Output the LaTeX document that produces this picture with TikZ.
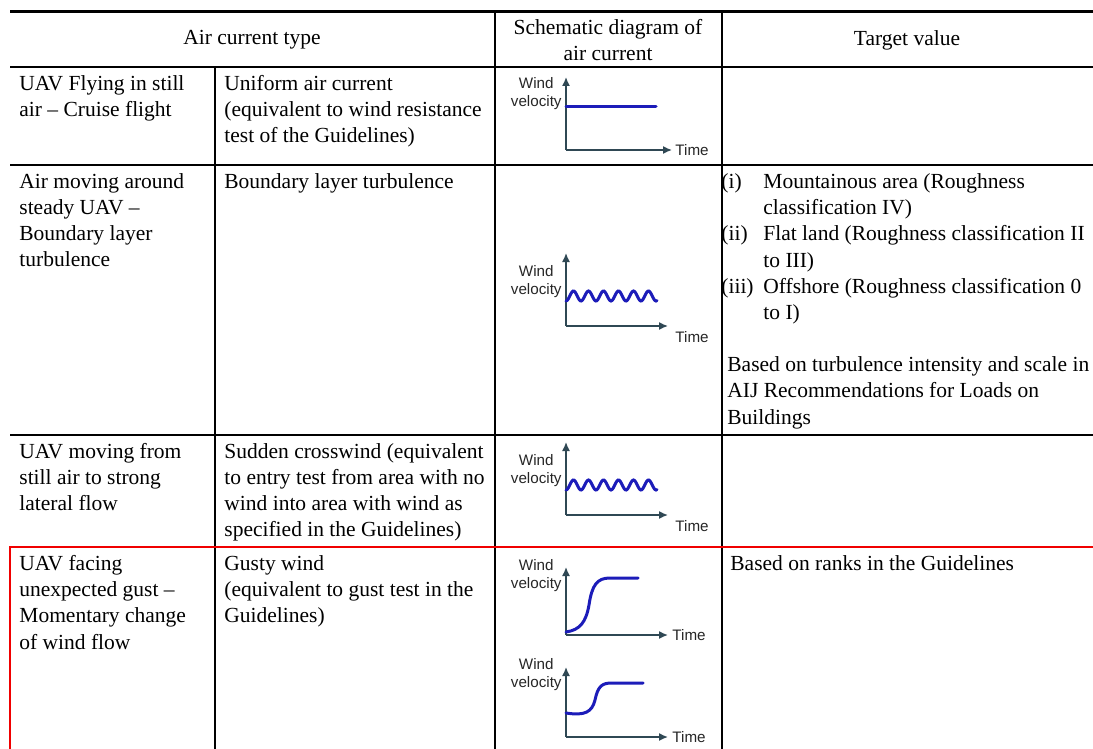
\documentclass[tikz,border=0pt]{standalone}
\usepackage{fontspec}
\setmainfont{Liberation Serif}
\newfontfamily\chartfont{Liberation Sans}
\usetikzlibrary{arrows.meta}
\definecolor{axisgray}{RGB}{47,72,84}
\definecolor{curveblue}{RGB}{28,28,185}
\definecolor{markred}{RGB}{240,0,0}
\tikzset{
	cell/.style    = {anchor=north west, inner sep=0pt, align=left,
		font=\fontsize{10.75}{13.1}\selectfont},
	head/.style    = {inner sep=0pt, align=center, font=\fontsize{10.75}{13.1}\selectfont},
	hrule/.style   = {line width=1.25pt},
	vrule/.style   = {line width=1pt},
	axis/.style    = {draw=axisgray, line width=0.75pt, -{Latex[length=4.5pt, width=4pt]}},
	axlabel/.style = {inner sep=0pt, align=center, text=black!85,
		font=\chartfont\fontsize{7.6}{9}\selectfont},
	curve/.style   = {draw=curveblue, line width=1.5pt, line cap=round}
}

\begin{document}
\begin{tikzpicture}[x=0.5pt, y=-0.5pt]
	\useasboundingbox (0,0) rectangle (1093,749);
	
	% table rules
	\draw[line width=1.5pt] (10,12) -- (1093,12);
	\draw[hrule] (10,67) -- (1093,67);
	\draw[hrule] (10,165) -- (1093,165);
	\draw[hrule] (10,435) -- (1093,435);
	\draw[vrule] (215,67) -- (215,749);
	\draw[vrule] (495,12) -- (495,749);
	\draw[vrule] (722,12) -- (722,749);
	\draw[hrule, markred] (1093,547) -- (10,547) -- (10,749);
	
	% header
	\draw
	node at (252,40)[head] (h1) {Air current type}
	node at (608,40)[head] (h2) {Schematic diagram of\\air current}
	node at (907,40)[head] (h3) {Target value}
	;
	
	% rows
	\draw
	node at (19,75)[cell] (a1) {UAV Flying in still\\air -- Cruise flight}
	node at (224,75)[cell] (b1) {Uniform air current\\(equivalent to wind resistance\\test of the Guidelines)}
	node at (19,173)[cell] (a2) {Air moving around\\steady UAV --\\Boundary layer\\turbulence}
	node at (224,173)[cell] (b2) {Boundary layer turbulence}
	node at (721,173)[cell] (l1) {(i)}
	node at (763,173)[cell] (i1) {Mountainous area (Roughness\\classification IV)}
	node at (721,225.4)[cell] (l2) {(ii)}
	node at (763,225.4)[cell] (i2) {Flat land (Roughness classification II\\to III)}
	node at (721,277.8)[cell] (l3) {(iii)}
	node at (763,277.8)[cell] (i3) {Offshore (Roughness classification 0\\to I)}
	node at (727,356.4)[cell] (d2) {Based on turbulence intensity and scale in\\AIJ Recommendations for Loads on\\Buildings}
	node at (19,443)[cell] (a3) {UAV moving from\\still air to strong\\lateral flow}
	node at (224,443)[cell] (b3) {Sudden crosswind (equivalent\\to entry test from area with no\\wind into area with wind as\\specified in the Guidelines)}
	node at (19,555)[cell] (a4) {UAV facing\\unexpected gust --\\Momentary change\\of wind flow}
	node at (224,555)[cell] (b4) {Gusty wind\\(equivalent to gust test in the\\Guidelines)}
	node at (730,555)[cell] (d4) {Based on ranks in the Guidelines}
	;
	
	% uniform current
	\coordinate (o1) at (566,150);
	\node[axlabel, anchor=east] (v1) at (562,94) {Wind\\velocity};
	\draw[axis] (o1) -- ++(0,-73);
	\draw[axis] (o1) -- ++(106,0) coordinate (x1);
	\node[axlabel, anchor=west] (t1) at ([xshift=1.5pt]x1) {Time};
	\draw[curve] (566,107) -- (656,107);
	
	% boundary layer
	\coordinate (o2) at (566,326);
	\node[axlabel, anchor=east] (v2) at (562,282) {Wind\\velocity};
	\draw[axis] (o2) -- ++(0,-73);
	\draw[axis] (o2) -- ++(102,0) coordinate (x2);
	\node[axlabel, anchor=north west] (t2) at ([shift={(7,5)}]x2) {Time};
	\draw[curve] plot[domain=0:91, samples=90, smooth] ({566+\x}, {296+5*cos(24*\x)});
	
	% crosswind
	\coordinate (o3) at (566,515);
	\node[axlabel, anchor=east] (v3) at (562,471) {Wind\\velocity};
	\draw[axis] (o3) -- ++(0,-73);
	\draw[axis] (o3) -- ++(102,0) coordinate (x3);
	\node[axlabel, anchor=north west] (t3) at ([shift={(7,5)}]x3) {Time};
	\draw[curve] plot[domain=0:91, samples=90, smooth] ({566+\x}, {485+5*cos(24*\x)});
	
	% gust, large step
	\coordinate (o4) at (566,635);
	\node[axlabel, anchor=east] (v4) at (562,576) {Wind\\velocity};
	\draw[axis] (o4) -- ++(0,-68);
	\draw[axis] (o4) -- ++(102,0) coordinate (x4);
	\node[axlabel, anchor=west] (t4) at ([xshift=2pt]x4) {Time};
	\draw[curve] (566,632) .. controls (580,630) and (586,622) .. (589,605)
	.. controls (592,585) and (597,578) .. (610,578) -- (638,578);
	
	% gust, small step
	\coordinate (o5) at (566,737);
	\node[axlabel, anchor=east] (v5) at (562,675) {Wind\\velocity};
	\draw[axis] (o5) -- ++(0,-70);
	\draw[axis] (o5) -- ++(102,0) coordinate (x5);
	\node[axlabel, anchor=west] (t5) at ([xshift=2pt]x5) {Time};
	\draw[curve] (566,713) .. controls (585,716) and (592,712) .. (595,700)
	.. controls (598,686) and (602,683) .. (612,683) -- (643,683);
\end{tikzpicture}
\end{document}
